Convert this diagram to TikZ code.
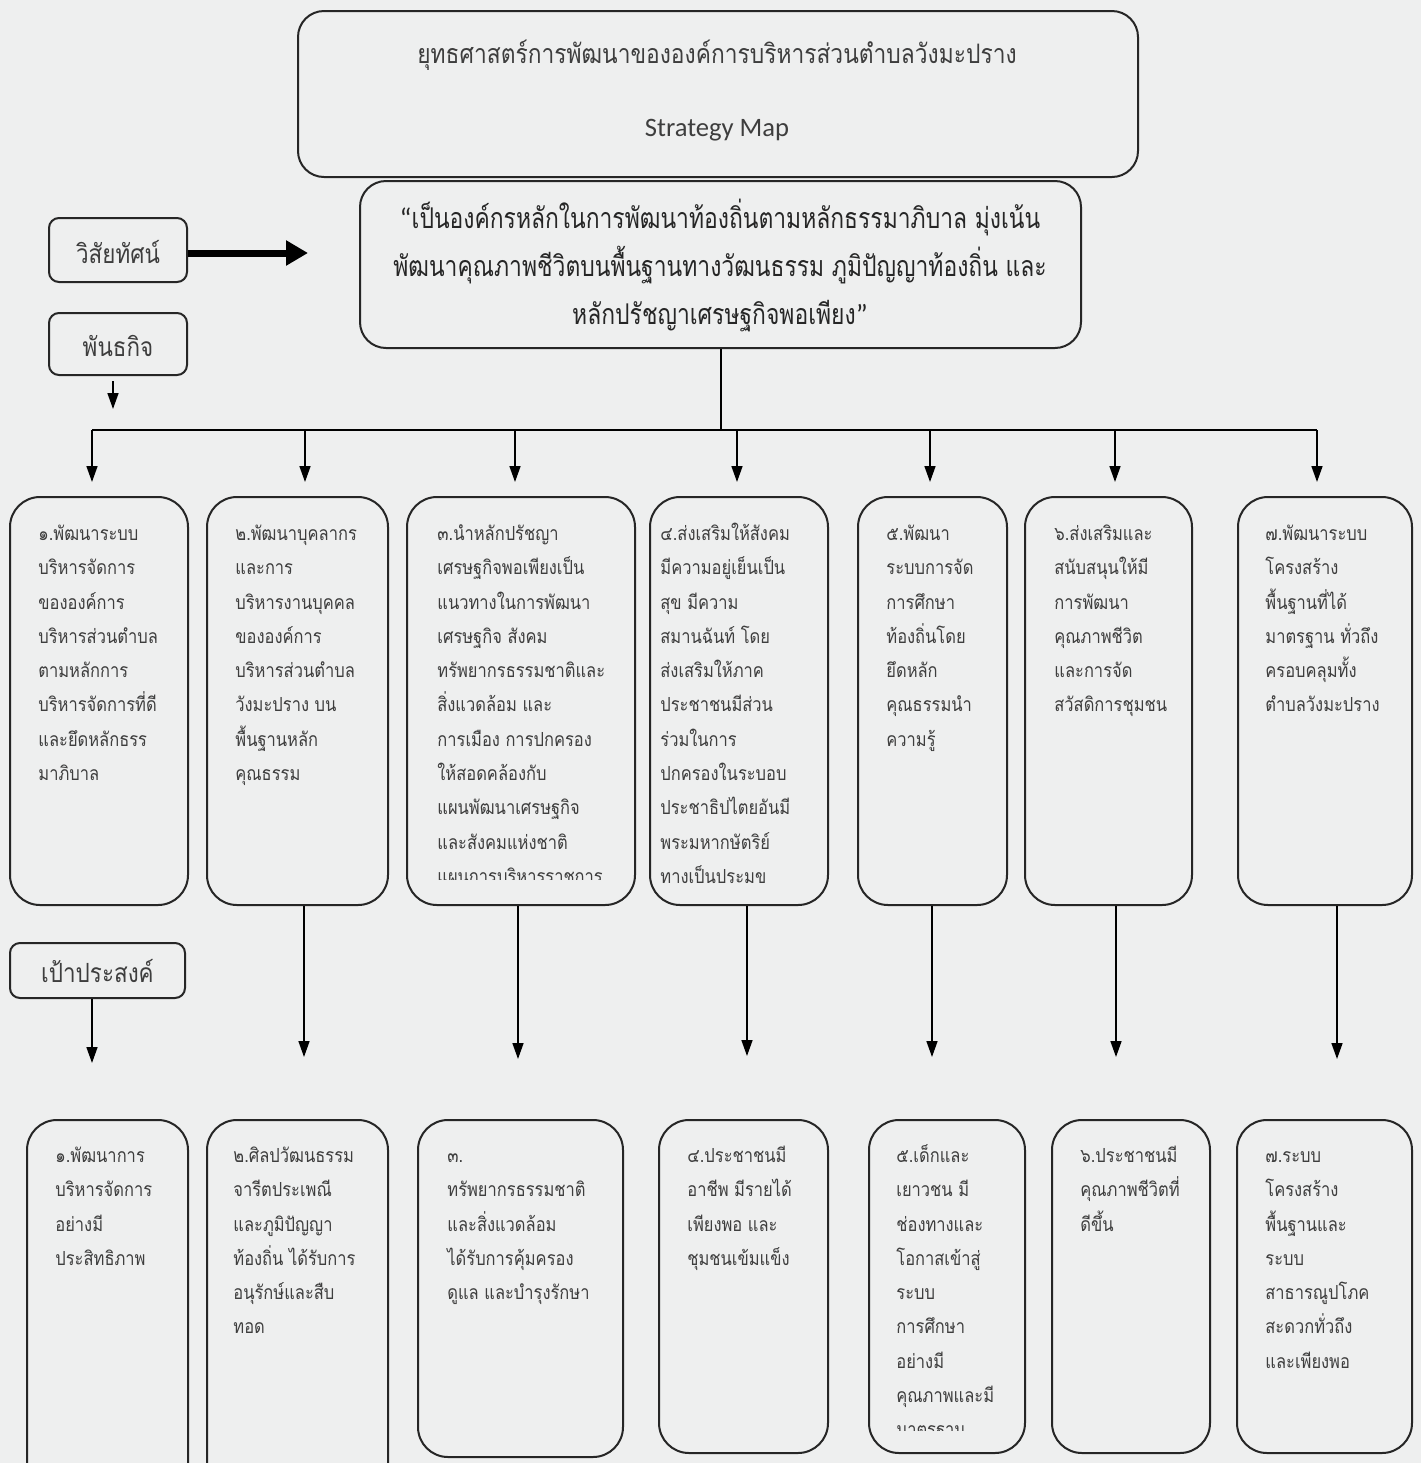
\documentclass[tikz,border=0pt]{standalone}
\usepackage{fontspec}
\usetikzlibrary{arrows.meta,fit}
\newfontfamily\thaifont[Script=Thai,FakeStretch=0.85]{Loma}
\newfontfamily\visionfont[Script=Thai,FakeStretch=0.8]{Loma}
\newfontfamily\latinfont{Carlito}
\definecolor{paper}{RGB}{238,239,239}
\definecolor{ink}{RGB}{62,62,62}
\tikzset{
  box/.style={draw=black!85, line width=1pt, rounded corners=13pt, inner sep=0pt},
  tagbox/.style={draw=black!85, line width=1pt, rounded corners=5pt, inner sep=0pt},
  tagtext/.style={anchor=base, inner sep=0pt, text=ink, font=\thaifont\fontsize{13.2}{15}\selectfont},
  colbox/.style={draw=black!85, line width=1pt, rounded corners=15pt, inner sep=0pt},
  coltext/.style={anchor=north west, inner sep=0pt, align=left, text=ink,
    font=\thaifont\fontsize{9.7}{17.15}\selectfont},
  link/.style={line width=0.8pt, -{Triangle[length=8pt,width=5.5pt]}},
  bigarrow/.style={line width=3.5pt, -{Triangle[length=11pt,width=12pt]}},
}
\begin{document}
\begin{tikzpicture}[x=0.5pt,y=-0.5pt]
        \useasboundingbox (0,0) rectangle (1421,1463);
        \clip (0,0) rectangle (1421,1463);
        \fill[paper] (0,0) rectangle (1421,1463);
        % heading and vision
        \node[box, fit={(298,11) (1138,177)}] (title) {};
        \node[text=ink, font=\thaifont\fontsize{13.4}{16}\selectfont] (titleth) at (717,55) {ยุทธศาสตร์การพัฒนาขององค์การบริหารส่วนตำบลวังมะปราง};
        \node[text=ink, font=\latinfont\fontsize{13.3}{16}\selectfont] (titleen) at (717,130) {Strategy Map};
        \node[box, fill=paper, fit={(360,181) (1081,348)}] (vision) {};
        \node[align=center, text=black!85, font=\visionfont\fontsize{14.3}{24}\selectfont] (visiontext) at (720,266)
          {{\latinfont “}เป็นองค์กรหลักในการพัฒนาท้องถิ่นตามหลักธรรมาภิบาล มุ่งเน้น\\
           พัฒนาคุณภาพชีวิตบนพื้นฐานทางวัฒนธรรม ภูมิปัญญาท้องถิ่น และ\\
           หลักปรัชญาเศรษฐกิจพอเพียง{\latinfont ”}};
        % side tags
        \node[tagbox, fit={(49,218) (187,282)}] (vis) {};
        \node[tagbox, fit={(49,313) (187,375)}] (mis) {};
        \node[tagbox, fit={(10,943) (185,998)}] (goal) {};
        \node[tagtext] (vistext) at ([yshift=-6.5pt]vis.center) {วิสัยทัศน์};
        \node[tagtext] (mistext) at ([yshift=-6pt]mis.center) {พันธกิจ};
        \node[tagtext] (goaltext) at ([yshift=-6pt]goal.center) {เป้าประสงค์};
        \coordinate (visend) at (308,253);
        \coordinate (mistip) at (113,409);
        \coordinate (goaltip) at (92,1063);
        \draw[bigarrow] (vis.east |- visend) -- (visend);
        \draw[link] ([yshift=-2.5pt]mis.south -| mistip) -- (mistip);
        \draw[link] (goal.south -| goaltip) -- (goaltip);
        % missions
        \node[colbox, fit={(10,497) (188,905)}] (m1) {};
        \node[colbox, fit={(207,497) (388,905)}] (m2) {};
        \node[colbox, fit={(407,497) (635,905)}] (m3) {};
        \node[colbox, fit={(650,497) (828,905)}] (m4) {};
        \node[colbox, fit={(858,497) (1007,905)}] (m5) {};
        \node[colbox, fit={(1025,497) (1192,905)}] (m6) {};
        \node[colbox, fit={(1238,497) (1412,905)}] (m7) {};
        \node[coltext] (m1text) at (38,516) {\strut ๑.พัฒนาระบบ\\บริหารจัดการ\\ขององค์การ\\บริหารส่วนตำบล\\ตามหลักการ\\บริหารจัดการที่ดี\\และยึดหลักธรร\\มาภิบาล};
        \node[coltext] (m2text) at (235,516) {\strut ๒.พัฒนาบุคลากร\\และการ\\บริหารงานบุคคล\\ขององค์การ\\บริหารส่วนตำบล\\วังมะปราง บน\\พื้นฐานหลัก\\คุณธรรม};
        \begin{scope}
          \clip (407,497) rectangle (635,879);
          \node[coltext] (m3text) at (437,516) {\strut ๓.นำหลักปรัชญา\\เศรษฐกิจพอเพียงเป็น\\แนวทางในการพัฒนา\\เศรษฐกิจ สังคม\\ทรัพยากรธรรมชาติและ\\สิ่งแวดล้อม และ\\การเมือง การปกครอง\\ให้สอดคล้องกับ\\แผนพัฒนาเศรษฐกิจ\\และสังคมแห่งชาติ\\แผนการบริหารราชการ};
        \end{scope}
        \node[coltext] (m4text) at (660,516) {\strut ๔.ส่งเสริมให้สังคม\\มีความอยู่เย็นเป็น\\สุข มีความ\\สมานฉันท์ โดย\\ส่งเสริมให้ภาค\\ประชาชนมีส่วน\\ร่วมในการ\\ปกครองในระบอบ\\ประชาธิปไตยอันมี\\พระมหากษัตริย์\\ทางเป็นประมข};
        \node[coltext] (m5text) at (886,516) {\strut ๕.พัฒนา\\ระบบการจัด\\การศึกษา\\ท้องถิ่นโดย\\ยึดหลัก\\คุณธรรมนำ\\ความรู้};
        \node[coltext] (m6text) at (1054,516) {\strut ๖.ส่งเสริมและ\\สนับสนุนให้มี\\การพัฒนา\\คุณภาพชีวิต\\และการจัด\\สวัสดิการชุมชน};
        \node[coltext] (m7text) at (1265,516) {\strut ๗.พัฒนาระบบ\\โครงสร้าง\\พื้นฐานที่ได้\\มาตรฐาน ทั่วถึง\\ครอบคลุมทั้ง\\ตำบลวังมะปราง};
        % vision down to the missions
        \coordinate (busL) at (92,430);
        \coordinate (busR) at (1317,430);
        \draw[line width=1pt] (vision.south) -- (vision.south |- busL);
        \draw[line width=1pt] (busL) -- (busR);
        \coordinate (d2) at (305,430);
        \coordinate (d3) at (515,430);
        \coordinate (d4) at (737,430);
        \coordinate (d5) at (930,430);
        \coordinate (d6) at (1115,430);
        \draw[link, shorten >=7pt] (busL) -- (busL |- m1.north);
        \draw[link, shorten >=7pt] (d2) -- (d2 |- m2.north);
        \draw[link, shorten >=7pt] (d3) -- (d3 |- m3.north);
        \draw[link, shorten >=7pt] (d4) -- (d4 |- m4.north);
        \draw[link, shorten >=7pt] (d5) -- (d5 |- m5.north);
        \draw[link, shorten >=7pt] (d6) -- (d6 |- m6.north);
        \draw[link, shorten >=7pt] (busR) -- (busR |- m7.north);
        % goals
        \node[colbox, fit={(27,1120) (188,1500)}] (g1) {};
        \node[colbox, fit={(207,1120) (388,1500)}] (g2) {};
        \node[colbox, fit={(418,1120) (623,1457)}] (g3) {};
        \node[colbox, fit={(659,1120) (828,1453)}] (g4) {};
        \node[colbox, fit={(869,1120) (1025,1453)}] (g5) {};
        \node[colbox, fit={(1052,1120) (1210,1453)}] (g6) {};
        \node[colbox, fit={(1237,1120) (1412,1453)}] (g7) {};
        \node[coltext] (g1text) at (55,1138) {\strut ๑.พัฒนาการ\\บริหารจัดการ\\อย่างมี\\ประสิทธิภาพ};
        \node[coltext] (g2text) at (233,1138) {\strut ๒.ศิลปวัฒนธรรม\\จารีตประเพณี\\และภูมิปัญญา\\ท้องถิ่น ได้รับการ\\อนุรักษ์และสืบ\\ทอด};
        \node[coltext] (g3text) at (447,1138) {\strut ๓.\\ทรัพยากรธรรมชาติ\\และสิ่งแวดล้อม\\ได้รับการคุ้มครอง\\ดูแล และบำรุงรักษา};
        \node[coltext] (g4text) at (687,1138) {\strut ๔.ประชาชนมี\\อาชีพ มีรายได้\\เพียงพอ และ\\ชุมชนเข้มแข็ง};
        \begin{scope}
          \clip (869,1120) rectangle (1025,1430);
          \node[coltext] (g5text) at (896,1138) {\strut ๕.เด็กและ\\เยาวชน มี\\ช่องทางและ\\โอกาสเข้าสู่\\ระบบ\\การศึกษา\\อย่างมี\\คุณภาพและมี\\มาตรฐาน};
        \end{scope}
        \node[coltext] (g6text) at (1080,1138) {\strut ๖.ประชาชนมี\\คุณภาพชีวิตที่\\ดีขึ้น};
        \node[coltext] (g7text) at (1265,1138) {\strut ๗.ระบบ\\โครงสร้าง\\พื้นฐานและ\\ระบบ\\สาธารณูปโภค\\สะดวกทั่วถึง\\และเพียงพอ};
        \coordinate (g2tip) at (304,1057);
        \coordinate (g3tip) at (518,1059);
        \coordinate (g4tip) at (747,1056);
        \coordinate (g5tip) at (932,1057);
        \coordinate (g6tip) at (1116,1057);
        \coordinate (g7tip) at (1337,1059);
        \draw[link] (g2tip |- m2.south) -- (g2tip);
        \draw[link] (g3tip |- m3.south) -- (g3tip);
        \draw[link] (g4tip |- m4.south) -- (g4tip);
        \draw[link] (g5tip |- m5.south) -- (g5tip);
        \draw[link] (g6tip |- m6.south) -- (g6tip);
        \draw[link] (g7tip |- m7.south) -- (g7tip);
    \end{tikzpicture}
\end{document}
